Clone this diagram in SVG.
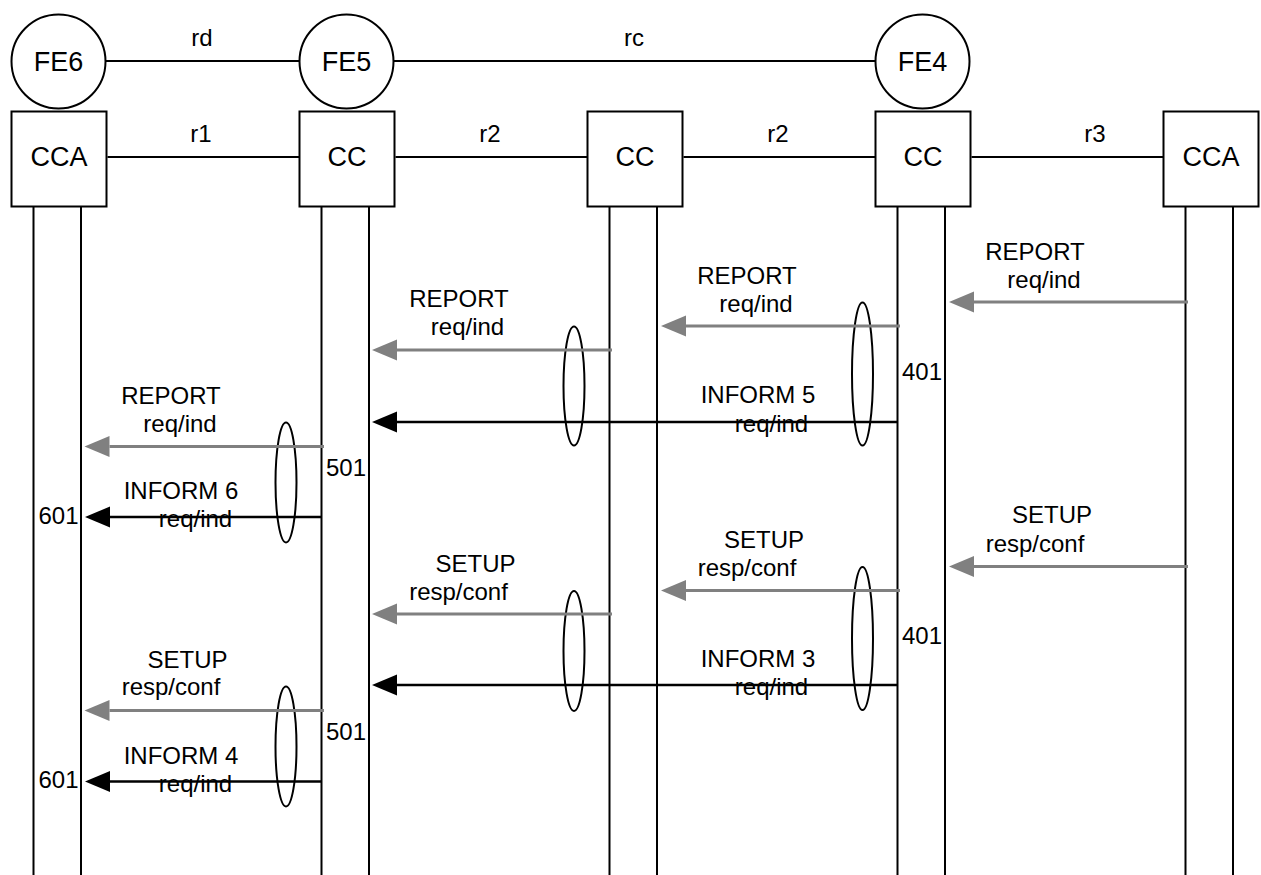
<svg xmlns="http://www.w3.org/2000/svg" width="1261" height="875" viewBox="0 0 1261 875">
  <style>
    .shape { fill: #ffffff; stroke: #000000; stroke-width: 2; }
    .link { stroke: #000000; stroke-width: 2; fill: none; }
    .life { stroke: #000000; stroke-width: 2; }
    .oval { fill: none; stroke: #000000; stroke-width: 2; }
    .msg-grey { stroke: #808080; stroke-width: 3; fill: none; marker-end: url(#head-grey); }
    .msg-black { stroke: #000000; stroke-width: 2.5; fill: none; marker-end: url(#head-black); }
    text { font-family: "Liberation Sans", Arial, sans-serif; fill: #000000; }
    .node-label { font-size: 27px; text-anchor: middle; }
    .lbl { font-size: 24px; text-anchor: middle; }
    .num { font-size: 24px; }
  </style>
  <defs>
    <marker id="head-grey" markerUnits="userSpaceOnUse" markerWidth="26" markerHeight="22" viewBox="0 -11 26 22" refX="0" refY="0" orient="auto">
      <path d="M0,-10.5 L25,0 L0,10.5 z" fill="#808080"/>
    </marker>
    <marker id="head-black" markerUnits="userSpaceOnUse" markerWidth="26" markerHeight="22" viewBox="0 -11 26 22" refX="0" refY="0" orient="auto">
      <path d="M0,-10.5 L25,0 L0,10.5 z" fill="#000000"/>
    </marker>
  </defs>

  <!-- links between entities -->
  <g id="connectors">
    <line class="link" x1="105.5" y1="61" x2="299.5" y2="61"/>
    <line class="link" x1="393.5" y1="61" x2="875.5" y2="61"/>
    <line class="link" x1="107.5" y1="157" x2="299.5" y2="157"/>
    <line class="link" x1="395.5" y1="157" x2="587.5" y2="157"/>
    <line class="link" x1="683.5" y1="157" x2="875.5" y2="157"/>
    <line class="link" x1="971.5" y1="157" x2="1163.5" y2="157"/>
  </g>
  <g id="link-labels">
    <text class="lbl" x="202" y="46">rd</text>
    <text class="lbl" x="634" y="46">rc</text>
    <text class="lbl" x="201" y="142">r1</text>
    <text class="lbl" x="490" y="142">r2</text>
    <text class="lbl" x="778" y="142">r2</text>
    <text class="lbl" x="1095" y="142">r3</text>
  </g>

  <!-- functional entities -->
  <g id="fe6"><circle class="shape" cx="58.5" cy="61.5" r="47"/><text class="node-label" x="58.5" y="71">FE6</text></g>
  <g id="fe5"><circle class="shape" cx="346.5" cy="61.5" r="47"/><text class="node-label" x="346.5" y="71">FE5</text></g>
  <g id="fe4"><circle class="shape" cx="922.5" cy="61.5" r="47"/><text class="node-label" x="922.5" y="71">FE4</text></g>

  <!-- call control boxes with their lifelines -->
  <g id="cca-left">
    <line class="life" x1="33.5" y1="207" x2="33.5" y2="875"/>
    <line class="life" x1="81" y1="207" x2="81" y2="875"/>
    <rect class="shape" x="11.5" y="111.5" width="95" height="95"/>
    <text class="node-label" x="59" y="166">CCA</text>
  </g>
  <g id="cc-fe5">
    <line class="life" x1="321.5" y1="207" x2="321.5" y2="875"/>
    <line class="life" x1="369" y1="207" x2="369" y2="875"/>
    <rect class="shape" x="299.5" y="111.5" width="95" height="95"/>
    <text class="node-label" x="347" y="166">CC</text>
  </g>
  <g id="cc-mid">
    <line class="life" x1="609.5" y1="207" x2="609.5" y2="875"/>
    <line class="life" x1="657" y1="207" x2="657" y2="875"/>
    <rect class="shape" x="587.5" y="111.5" width="95" height="95"/>
    <text class="node-label" x="635" y="166">CC</text>
  </g>
  <g id="cc-fe4">
    <line class="life" x1="897.5" y1="207" x2="897.5" y2="875"/>
    <line class="life" x1="945" y1="207" x2="945" y2="875"/>
    <rect class="shape" x="875.5" y="111.5" width="95" height="95"/>
    <text class="node-label" x="923" y="166">CC</text>
  </g>
  <g id="cca-right">
    <line class="life" x1="1185.5" y1="207" x2="1185.5" y2="875"/>
    <line class="life" x1="1233" y1="207" x2="1233" y2="875"/>
    <rect class="shape" x="1163.5" y="111.5" width="95" height="95"/>
    <text class="node-label" x="1211" y="166">CCA</text>
  </g>

  <!-- grouping ovals -->
  <g id="ovals">
    <ellipse class="oval" cx="862.5" cy="374" rx="10.5" ry="71.5"/>
    <ellipse class="oval" cx="574" cy="386" rx="10.5" ry="59.5"/>
    <ellipse class="oval" cx="286" cy="482.5" rx="10.5" ry="60"/>
    <ellipse class="oval" cx="862.5" cy="638.5" rx="10.5" ry="71.5"/>
    <ellipse class="oval" cx="574" cy="651" rx="10.5" ry="60"/>
    <ellipse class="oval" cx="286" cy="746.5" rx="10.5" ry="60"/>
  </g>

  <!-- message flows -->
  <g id="messages">
    <line class="msg-grey" x1="1188" y1="302" x2="974" y2="302"/>
    <line class="msg-grey" x1="900" y1="326" x2="686" y2="326"/>
    <line class="msg-grey" x1="612" y1="350" x2="397" y2="350"/>
    <line class="msg-black" x1="897.5" y1="422" x2="397" y2="422"/>
    <line class="msg-grey" x1="324" y1="446.5" x2="109.5" y2="446.5"/>
    <line class="msg-black" x1="321.5" y1="517" x2="110" y2="517"/>

    <line class="msg-grey" x1="1188" y1="566.5" x2="974" y2="566.5"/>
    <line class="msg-grey" x1="900" y1="590.5" x2="686" y2="590.5"/>
    <line class="msg-grey" x1="612" y1="614" x2="397" y2="614"/>
    <line class="msg-black" x1="897.5" y1="685" x2="397" y2="685"/>
    <line class="msg-grey" x1="324" y1="710.5" x2="109.5" y2="710.5"/>
    <line class="msg-black" x1="321.5" y1="781.5" x2="110" y2="781.5"/>
  </g>

  <!-- message labels -->
  <g id="message-labels">
    <text class="lbl" x="1035" y="260">REPORT</text>
    <text class="lbl" x="1044" y="288">req/ind</text>
    <text class="lbl" x="747" y="284">REPORT</text>
    <text class="lbl" x="756" y="312">req/ind</text>
    <text class="lbl" x="459" y="307">REPORT</text>
    <text class="lbl" x="467.5" y="335">req/ind</text>
    <text class="lbl" x="758" y="403">INFORM 5</text>
    <text class="lbl" x="771.5" y="432">req/ind</text>
    <text class="lbl" x="171" y="404">REPORT</text>
    <text class="lbl" x="180" y="432">req/ind</text>
    <text class="lbl" x="181" y="499">INFORM 6</text>
    <text class="lbl" x="195.5" y="527">req/ind</text>

    <text class="lbl" x="1052" y="523">SETUP</text>
    <text class="lbl" x="1035" y="551.5">resp/conf</text>
    <text class="lbl" x="764" y="547.5">SETUP</text>
    <text class="lbl" x="747" y="575.5">resp/conf</text>
    <text class="lbl" x="475.5" y="572">SETUP</text>
    <text class="lbl" x="458.5" y="600">resp/conf</text>
    <text class="lbl" x="758" y="667">INFORM 3</text>
    <text class="lbl" x="771.5" y="695">req/ind</text>
    <text class="lbl" x="187.5" y="667.5">SETUP</text>
    <text class="lbl" x="171" y="695">resp/conf</text>
    <text class="lbl" x="181" y="764">INFORM 4</text>
    <text class="lbl" x="195.5" y="791.5">req/ind</text>

    <text class="num" x="902" y="380">401</text>
    <text class="num" x="902" y="643.5">401</text>
    <text class="num" x="326" y="476">501</text>
    <text class="num" x="326" y="740">501</text>
    <text class="num" x="38.5" y="523.5">601</text>
    <text class="num" x="38.5" y="788">601</text>
  </g>
</svg>
